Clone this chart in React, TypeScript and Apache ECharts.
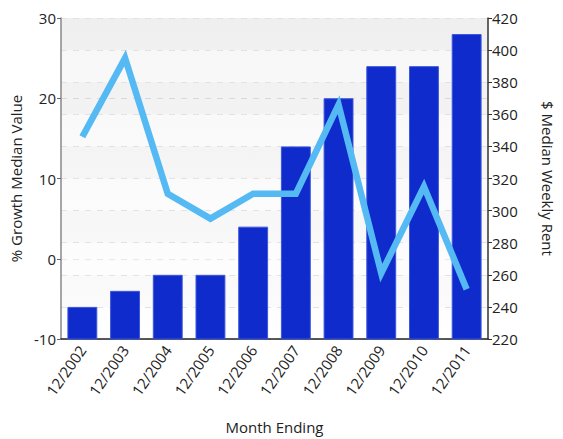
import React, { useEffect, useRef } from "react";
import * as echarts from "echarts";

const categories = ["12/2002", "12/2003", "12/2004", "12/2005", "12/2006", "12/2007", "12/2008", "12/2009", "12/2010", "12/2011"];
const weeklyRent = [240, 250, 260, 260, 290, 340, 370, 390, 390, 410];
const growthValue = [15.2, 25, 8.1, 5, 8.1, 8.1, 19.2, -1.8, 9, -3.8];

const FONT = "Open Sans";

export default function App() {
  const ref = useRef<HTMLDivElement>(null);
  useEffect(() => {
    const chart = echarts.init(ref.current!, null, { renderer: "svg" });
    chart.setOption({
      animation: false,
      textStyle: { fontFamily: FONT },
      grid: {
        left: 57,
        right: 75,
        top: 18,
        bottom: 96,
        show: true,
        borderWidth: 0,
        backgroundColor: new echarts.graphic.LinearGradient(0, 0, 0, 1, [
          { offset: 0, color: "#f2f2f2" },
          { offset: 1, color: "#ffffff" },
        ]),
      },
      xAxis: {
        type: "category",
        data: categories,
        name: "Month Ending",
        nameLocation: "middle",
        nameGap: 80,
        nameTextStyle: { fontSize: 15, color: "#222", fontFamily: FONT },
        axisLine: { onZero: false, lineStyle: { color: "#222", width: 1.5 } },
        axisTick: { alignWithLabel: true, length: 4, lineStyle: { color: "#444" } },
        axisLabel: { rotate: 55, fontSize: 15, color: "#222", fontFamily: FONT, margin: 8 },
      },
      yAxis: [
        {
          type: "value",
          min: -10,
          max: 30,
          interval: 10,
          position: "left",
          name: "% Growth Median Value",
          nameLocation: "middle",
          nameGap: 38,
          nameTextStyle: { fontSize: 15, color: "#222", fontFamily: FONT },
          axisLine: { show: true, lineStyle: { color: "#888", width: 1.5 } },
          axisTick: { show: true, length: 4, lineStyle: { color: "#666" } },
          axisLabel: { fontSize: 15, color: "#222", fontFamily: FONT, margin: 5 },
          splitLine: { show: true, lineStyle: { color: "#dcdcdc", type: [6, 6] } },
        },
        {
          type: "value",
          min: 220,
          max: 420,
          interval: 20,
          position: "right",
          name: "$ Median Weekly Rent",
          nameLocation: "middle",
          nameRotate: -90,
          nameGap: 52,
          nameTextStyle: { fontSize: 15, color: "#222", fontFamily: FONT },
          axisLine: { show: true, lineStyle: { color: "#333", width: 1.5 } },
          axisTick: { show: true, length: 4, lineStyle: { color: "#333" } },
          axisLabel: { fontSize: 15, color: "#222", fontFamily: FONT, margin: 4 },
          splitLine: { show: true, lineStyle: { color: "#e2e2e2", type: [6, 6] } },
          splitArea: { show: true, areaStyle: { color: ["rgba(255,255,255,0.35)", "rgba(0,0,0,0.012)"] } },
        },
      ],
      series: [
        {
          type: "bar",
          yAxisIndex: 1,
          data: weeklyRent,
          barWidth: "70%",
          itemStyle: { color: "#0f2bcc", borderColor: "#3d56dd", borderWidth: 1 },
        },
        {
          type: "line",
          yAxisIndex: 0,
          data: growthValue,
          symbol: "none",
          lineStyle: { color: "#55b9f4", width: 6.5, join: "miter" },
        },
      ],
    });
    return () => chart.dispose();
  }, []);
  return <div ref={ref} style={{ width: 563, height: 439, position: "absolute", left: 0, top: 0 }} />;
}
